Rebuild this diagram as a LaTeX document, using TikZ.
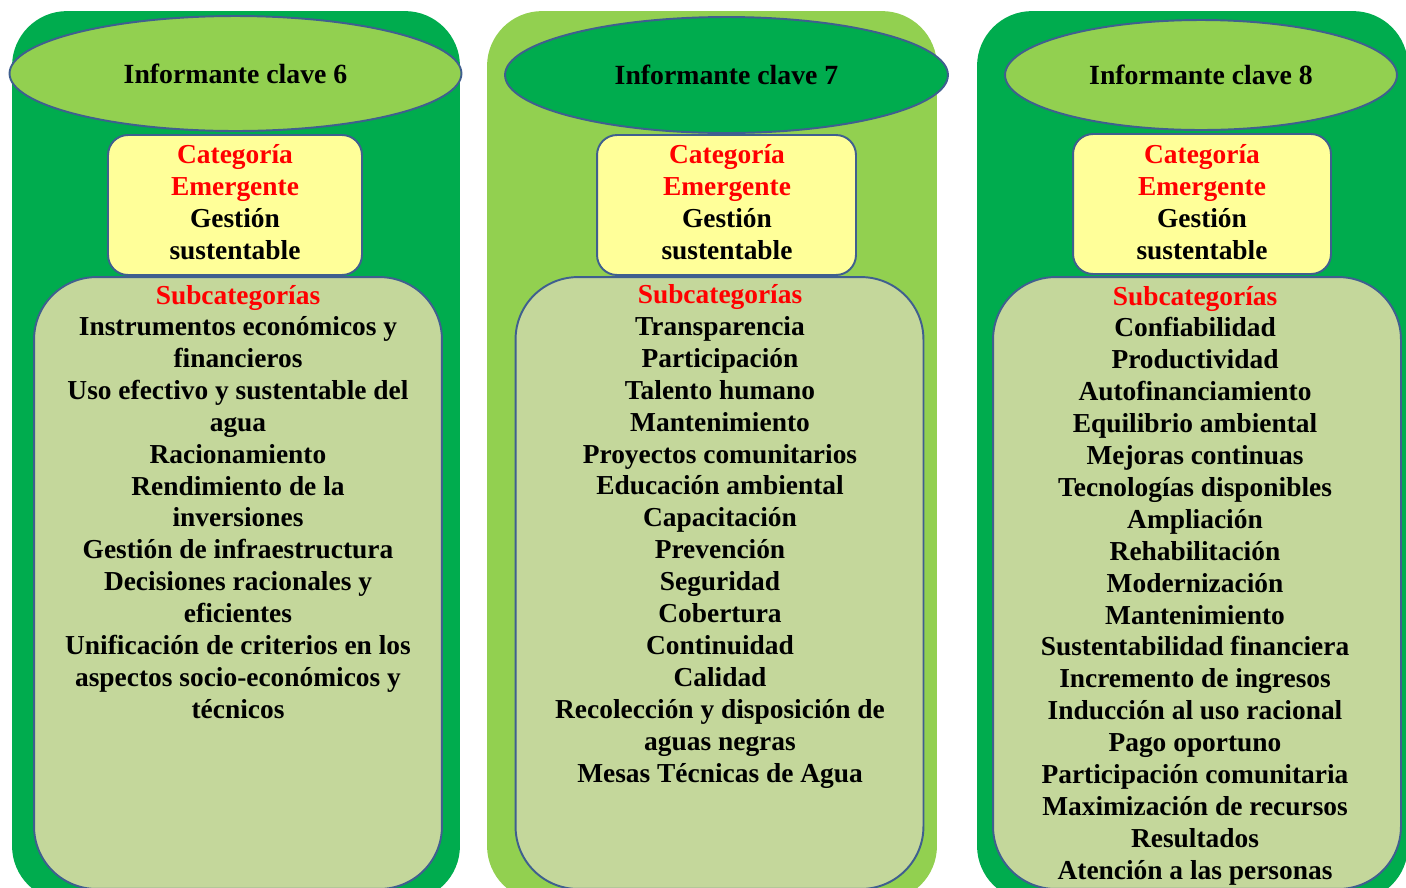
\documentclass[tikz,border=0pt]{standalone}
\usepackage{fontspec}
\setmainfont{Liberation Serif}
\usetikzlibrary{shapes.geometric}
\definecolor{darkgreen}{HTML}{00AC4E}
\definecolor{lightgreen}{HTML}{92D050}
\definecolor{paleyellow}{HTML}{FFFF99}
\definecolor{olivebox}{HTML}{C4D79B}
\definecolor{edgeblue}{HTML}{3F5F8F}
\begin{document}
\begin{tikzpicture}[x=0.02cm, y=-0.02cm,
  panel/.style={rectangle, rounded corners=1.1cm, inner sep=0, minimum height=17.8cm},
  title/.style={ellipse, draw=edgeblue, line width=1.1pt, inner sep=0,
    font=\fontsize{15.8}{18}\selectfont\bfseries},
  catbox/.style={rectangle, rounded corners=0.4cm, draw=edgeblue, line width=1.1pt,
    fill=paleyellow, inner sep=0, minimum height=2.8cm},
  subbox/.style={rectangle, rounded corners=1.25cm, draw=edgeblue, line width=1.1pt,
    fill=olivebox, inner sep=0, minimum width=8.16cm, minimum height=12.24cm},
  txt/.style={anchor=base, inner sep=0, font=\fontsize{15.6}{18}\selectfont\bfseries}]
  \clip (0,0) rectangle (1406,887);

  % informante 6
  \node[panel, fill=darkgreen, minimum width=8.96cm] (p6) at (236,456) {};
  \node[title, fill=lightgreen, minimum width=9.04cm, minimum height=2.3cm] (i6) at (235.5,73.5) {Informante clave 6};
  \node[catbox, minimum width=5.08cm] (c6) at (235,205) {};
  \node[subbox] (s6) at (238,583) {};

  % informante 7
  \node[panel, fill=lightgreen, minimum width=9cm] (p7) at (712,456) {};
  \node[title, fill=darkgreen, minimum width=8.86cm, minimum height=2.32cm] (i7) at (726.5,75) {Informante clave 7};
  \node[catbox, minimum width=5.18cm] (c7) at (726.5,205) {};
  \node[subbox] (s7) at (719.5,583) {};

  % informante 8
  \node[panel, fill=darkgreen, minimum width=8.62cm] (p8) at (1192.5,456) {};
  \node[title, fill=lightgreen, minimum width=7.84cm, minimum height=2.2cm] (i8) at (1201,75) {Informante clave 8};
  \node[catbox, minimum width=5.16cm] (c8) at (1202,204) {};
  \node[subbox] (s8) at (1197,583) {};

  \foreach \x/\n in {235/6, 727/7, 1202/8}
    \foreach \t [count=\i] in {\textcolor{red}{Categoría}, \textcolor{red}{Emergente}, Gestión, sustentable}
      \node[txt] (k\n-\i) at (\x, 130.7+32.3*\i) {\t};

  \foreach \t [count=\i from 0] in {\textcolor{red}{Subcategorías},
      Instrumentos económicos y, financieros,
      Uso efectivo y sustentable del, agua,
      Racionamiento,
      Rendimiento de la, inversiones,
      Gestión de infraestructura,
      Decisiones racionales y, eficientes,
      Unificación de criterios en los, aspectos socio-económicos y, técnicos}
    \node[txt] (t6-\i) at (238, 304+31.85*\i) {\t};

  \foreach \t [count=\i from 0] in {\textcolor{red}{Subcategorías},
      Transparencia, Participación, Talento humano, Mantenimiento,
      Proyectos comunitarios, Educación ambiental, Capacitación,
      Prevención, Seguridad, Cobertura, Continuidad, Calidad,
      Recolección y disposición de, aguas negras,
      Mesas Técnicas de Agua}
    \node[txt] (t7-\i) at (720, 303.5+31.9*\i) {\t};

  \foreach \t [count=\i from 0] in {\textcolor{red}{Subcategorías},
      Confiabilidad, Productividad, Autofinanciamiento,
      Equilibrio ambiental, Mejoras continuas, Tecnologías disponibles,
      Ampliación, Rehabilitación, Modernización, Mantenimiento,
      Sustentabilidad financiera, Incremento de ingresos,
      Inducción al uso racional, Pago oportuno,
      Participación comunitaria, Maximización de recursos,
      Resultados, Atención a las personas}
    \node[txt] (t8-\i) at (1195, 305+31.9*\i) {\t};
\end{tikzpicture}
\end{document}
